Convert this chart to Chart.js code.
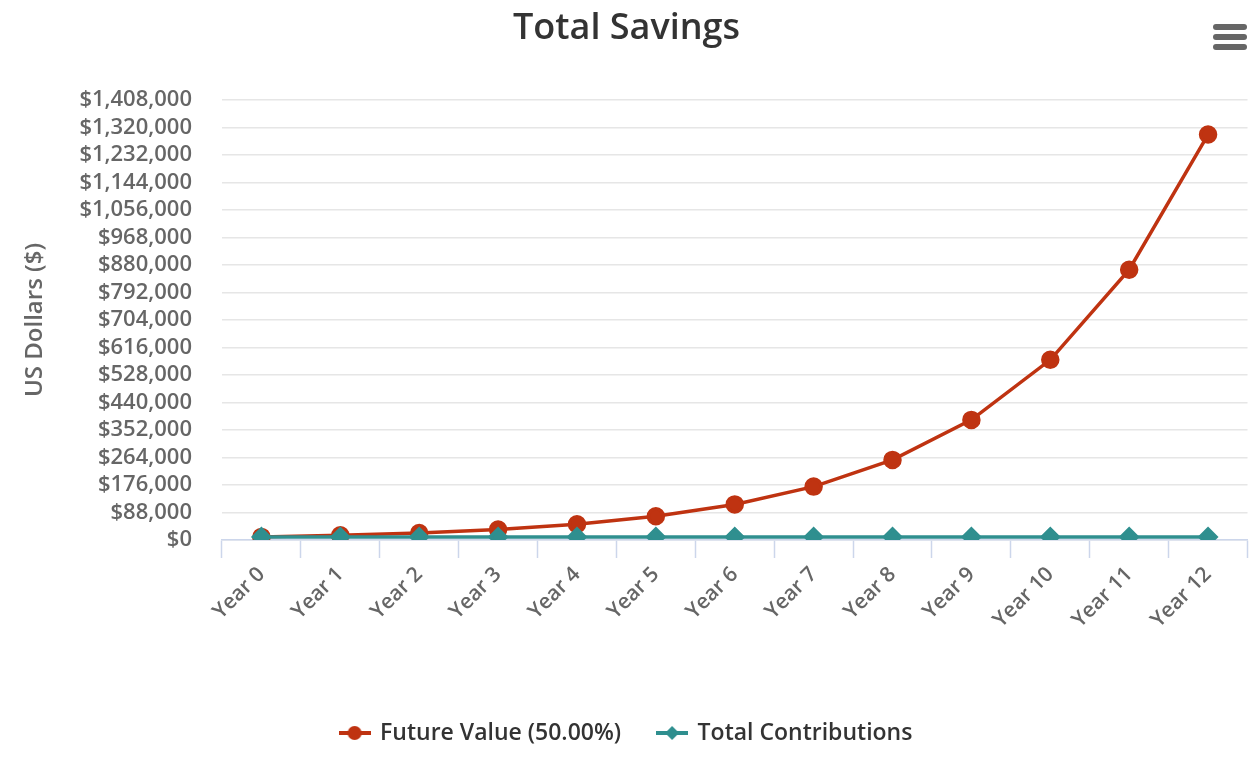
<!DOCTYPE html>
<html lang="en">
<head>
    <meta charset="UTF-8">
    <title>Total Savings</title>
    <script src="https://cdn.jsdelivr.net/npm/chart.js"></script>
    <style>
        body { margin: 0; background: #fff; }
        .wrap { position: relative; width: 1260px; height: 760px; }
        .menu { position: absolute; left: 1213px; top: 24px; width: 34px; }
        .menu span { display: block; height: 6px; margin-bottom: 4px; background: #666; border-radius: 3px; }
    </style>
</head>
<body>
    <div class="wrap">
        <canvas id="savingsChart" width="1260" height="760"></canvas>
        <div class="menu"><span></span><span></span><span></span></div>
    </div>

    <script>
        // values
        const years = ['Year 0', 'Year 1', 'Year 2', 'Year 3', 'Year 4', 'Year 5', 'Year 6',
                       'Year 7', 'Year 8', 'Year 9', 'Year 10', 'Year 11', 'Year 12'];
        const futureValue = [10000, 15000, 22500, 33750, 50600, 75900, 113900,
                             170900, 256300, 384400, 576700, 865000, 1297500];
        const contributions = [10000, 10000, 10000, 10000, 10000, 10000, 10000,
                               10000, 10000, 10000, 10000, 10000, 10000];
        const yMax = 1408000;
        const yStep = 88000;

        const RED = '#bf3311';
        const TEAL = '#2f8f8f';
        const FONT = "'Open Sans', 'DejaVu Sans', sans-serif";

        // legend symbol: short line with the marker on it
        function legendSymbol(color, shape) {
            const c = document.createElement('canvas');
            c.width = 32; c.height = 18;
            const g = c.getContext('2d');
            g.strokeStyle = color; g.lineWidth = 4;
            g.beginPath(); g.moveTo(0, 9); g.lineTo(32, 9); g.stroke();
            g.fillStyle = color;
            g.beginPath();
            if (shape === 'circle') {
                g.arc(16, 9, 7, 0, Math.PI * 2);
            } else {
                g.moveTo(16, 2); g.lineTo(23, 9); g.lineTo(16, 16); g.lineTo(9, 9); g.closePath();
            }
            g.fill();
            return c;
        }
        const symbols = [legendSymbol(RED, 'circle'), legendSymbol(TEAL, 'diamond')];

        const money = v => '$' + v.toLocaleString('en-US');

        new Chart(document.getElementById('savingsChart'), {
            type: 'line',
            data: {
                labels: years,
                datasets: [{
                    label: 'Future Value (50.00%)',
                    data: futureValue,
                    borderColor: RED,
                    backgroundColor: RED,
                    borderWidth: 3.5,
                    pointStyle: 'circle',
                    pointRadius: 7.5,
                    pointHoverRadius: 8,
                    tension: 0,
                    order: 1
                }, {
                    label: 'Total Contributions',
                    data: contributions,
                    borderColor: TEAL,
                    backgroundColor: TEAL,
                    borderWidth: 3.5,
                    pointStyle: 'rectRot',
                    pointRadius: 8,
                    pointHoverRadius: 9,
                    tension: 0,
                    order: 0
                }]
            },
            options: {
                responsive: false,
                animation: false,
                layout: { padding: { left: 0, right: 7, top: 0, bottom: 5.5 } },
                plugins: {
                    title: {
                        display: true,
                        text: 'Total Savings',
                        color: '#333333',
                        font: { family: FONT, size: 36, weight: '600' },
                        padding: { top: 7.5, bottom: 49.3 }
                    },
                    legend: {
                        position: 'bottom',
                        labels: {
                            usePointStyle: true,
                            pointStyleWidth: 28,
                            padding: 37,
                            color: '#333333',
                            font: { family: FONT, size: 23, weight: '600' },
                            sort: (a, b) => a.datasetIndex - b.datasetIndex,
                            generateLabels: chart => {
                                const items = Chart.defaults.plugins.legend.labels.generateLabels(chart);
                                items.forEach(it => { it.pointStyle = symbols[it.datasetIndex]; });
                                return items;
                            }
                        }
                    },
                    tooltip: { enabled: false }
                },
                scales: {
                    x: {
                        offset: true,
                        grid: {
                            display: true,
                            offset: true,
                            drawOnChartArea: false,
                            drawTicks: true,
                            tickLength: 18,
                            tickColor: '#ccd6eb',
                            tickWidth: 1.5
                        },
                        border: { display: true, color: '#ccd6eb', width: 1.5 },
                        ticks: {
                            autoSkip: false,
                            minRotation: 45,
                            maxRotation: 45,
                            padding: 4,
                            color: '#666666',
                            font: { family: FONT, size: 21, weight: '600' }
                        },
                        afterFit: scale => { scale.height = 144.5; }
                    },
                    y: {
                        min: 0,
                        max: yMax,
                        grid: { color: '#e6e6e6', lineWidth: 1.5, drawTicks: false },
                        border: { display: false },
                        ticks: {
                            stepSize: yStep,
                            autoSkip: false,
                            padding: 30,
                            color: '#666666',
                            font: { family: FONT, size: 22, weight: '600' },
                            callback: v => money(v)
                        },
                        title: {
                            display: true,
                            text: 'US Dollars ($)',
                            color: '#666666',
                            font: { family: FONT, size: 24, weight: '600' },
                            padding: { top: 20.6, bottom: 0 }
                        },
                        afterFit: scale => { scale.width = 222; }
                    }
                }
            }
        });
    </script>
</body>
</html>
